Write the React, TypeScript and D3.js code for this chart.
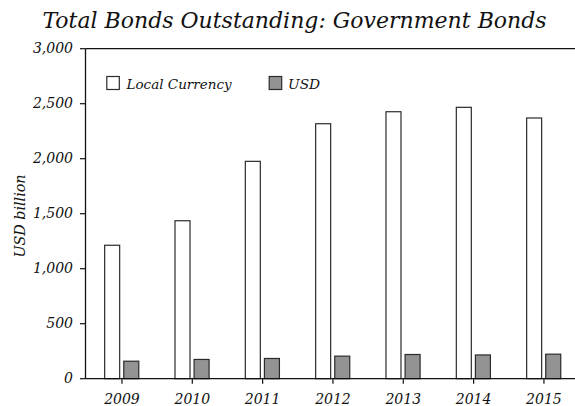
import React from "react";
import * as d3 from "d3";

const years = ["2009", "2010", "2011", "2012", "2013", "2014", "2015"];
const localCurrency = [1213, 1436, 1976, 2318, 2427, 2467, 2370];
const usd = [159, 175, 184, 205, 220, 216, 223];
const yTicks = [0, 500, 1000, 1500, 2000, 2500, 3000];
const seriesNames = ["Local Currency", "USD"];

const W = 575;
const H = 406;
const FONT = "'DejaVu Serif', serif";

export default function App() {
  const left = 85.5;
  const top = 48.7;
  const bottom = 378.7;
  const x = d3.scaleBand<string>().domain(years).range([86.8, 86.8 + 7 * 70.33]).padding(0);
  const y = d3.scaleLinear().domain([0, 3000]).range([bottom, top]);
  const fmt = d3.format(",");
  const bw = 15;
  const stroke = "#2b2b2b";

  return (
    <svg width={W} height={H} style={{ position: "absolute", left: 0, top: 0, background: "#fff" }}>
      <text x={294.5} y={27.5} textAnchor="middle" fontFamily={FONT} fontStyle="italic" fontSize={22} fill="#111">
        Total Bonds Outstanding: Government Bonds
      </text>

      {/* bars */}
      {years.map((yr, i) => {
        const c = (x(yr) as number) + x.bandwidth() / 2;
        return (
          <g key={yr}>
            <rect x={c - 17.3} y={y(localCurrency[i])} width={bw} height={bottom - y(localCurrency[i])}
              fill="#fff" stroke={stroke} strokeWidth={1.2} />
            <rect x={c + 1.8} y={y(usd[i])} width={bw} height={bottom - y(usd[i])}
              fill="#939393" stroke={stroke} strokeWidth={1.2} />
          </g>
        );
      })}

      {/* frame */}
      <line x1={left} x2={W} y1={top} y2={top} stroke="#111" strokeWidth={1.3} />
      <line x1={left} x2={W} y1={bottom} y2={bottom} stroke="#111" strokeWidth={1.3} />
      <line x1={left} x2={left} y1={top} y2={bottom} stroke="#111" strokeWidth={1.3} />

      {/* y ticks */}
      {yTicks.map((t) => (
        <g key={t}>
          <line x1={left - 5.5} x2={left} y1={y(t)} y2={y(t)} stroke="#111" strokeWidth={1.2} />
          <text x={73} y={y(t) + 4.5} textAnchor="end" fontFamily={FONT} fontStyle="italic" fontSize={14} fill="#111">
            {fmt(t)}
          </text>
        </g>
      ))}

      {/* x ticks */}
      {years.map((yr) => {
        const c = (x(yr) as number) + x.bandwidth() / 2;
        return (
          <g key={yr}>
            <line x1={c} x2={c} y1={bottom} y2={bottom + 5} stroke="#111" strokeWidth={1.2} />
            <text x={c} y={403.5} textAnchor="middle" fontFamily={FONT} fontStyle="italic" fontSize={14} fill="#111">
              {yr}
            </text>
          </g>
        );
      })}

      <text transform="translate(25,216) rotate(-90)" textAnchor="middle" fontFamily={FONT} fontStyle="italic" fontSize={14.3} fill="#111">
        USD billion
      </text>

      {/* legend */}
      <rect x={106.8} y={76.5} width={12.5} height={13} fill="#fff" stroke={stroke} strokeWidth={1.2} />
      <text x={126.5} y={88.5} fontFamily={FONT} fontStyle="italic" fontSize={13.5} fill="#111">{seriesNames[0]}</text>
      <rect x={269.2} y={76.5} width={12.5} height={13} fill="#939393" stroke={stroke} strokeWidth={1.2} />
      <text x={288} y={88.5} fontFamily={FONT} fontStyle="italic" fontSize={13.8} fill="#111">{seriesNames[1]}</text>
    </svg>
  );
}
